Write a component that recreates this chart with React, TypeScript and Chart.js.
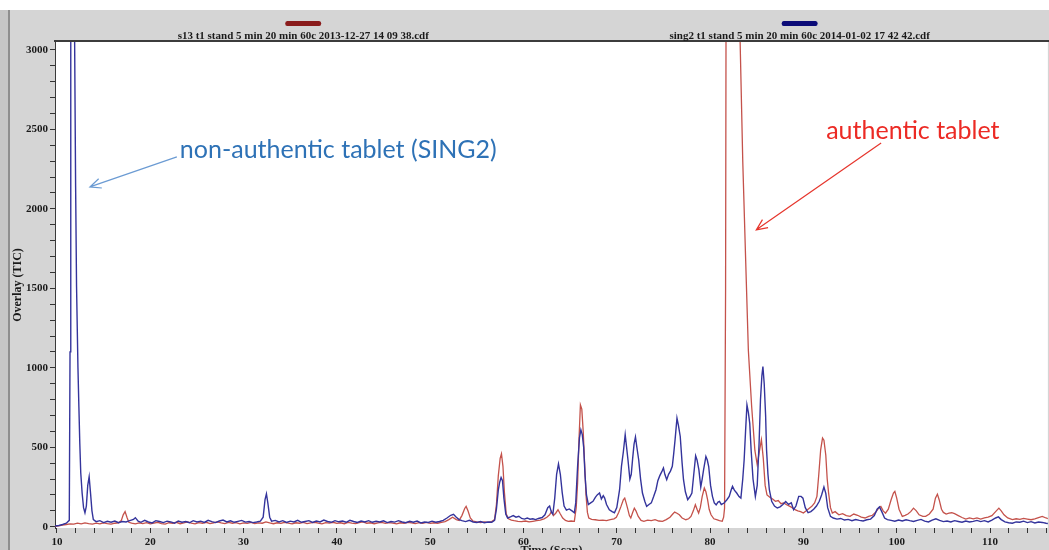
import React, { useEffect, useRef } from 'react';
import { Chart, registerables } from 'chart.js';

Chart.register(...registerables);

// ---- data: [time (scan), intensity] ----
const redSeries: [number, number][] = [
  [9.8, 2], [10.2, 6], [10.6, 10], [11.0, 14], [11.4, 18], [11.8, 16], [12.2, 22], [12.6, 18], [13.0, 24], [13.4, 20],
  [13.8, 17], [14.2, 22], [14.6, 18], [15.0, 25], [15.4, 20], [15.8, 16], [16.2, 22], [16.6, 25], [16.9, 40], [17.1, 75],
  [17.3, 95], [17.5, 60], [17.7, 28], [18.0, 22], [18.4, 18], [18.8, 24], [19.2, 20], [19.6, 26], [20.0, 18], [20.4, 23],
  [20.8, 28], [21.2, 20], [21.6, 17], [22.0, 25], [22.4, 22], [22.8, 28], [23.2, 19], [23.6, 24], [24.0, 30], [24.4, 22],
  [24.8, 18], [25.2, 26], [25.6, 22], [26.0, 28], [26.4, 20], [26.8, 25], [27.2, 30], [27.6, 24], [28.0, 20], [28.4, 27],
  [28.8, 22], [29.2, 26], [29.6, 18], [30.0, 24], [30.4, 21], [30.8, 27], [31.2, 20], [31.6, 24], [32.0, 22], [32.4, 30],
  [32.8, 24], [33.2, 19], [33.6, 25], [34.0, 21], [34.4, 28], [34.8, 23], [35.2, 18], [35.6, 25], [36.0, 22], [36.4, 27],
  [36.8, 20], [37.2, 24], [37.6, 28], [38.0, 22], [38.4, 18], [38.8, 26], [39.2, 23], [39.6, 28], [40.0, 21], [40.4, 25],
  [40.8, 19], [41.2, 27], [41.6, 23], [42.0, 20], [42.4, 26], [42.8, 30], [43.2, 22], [43.6, 25], [44.0, 19], [44.4, 24],
  [44.8, 27], [45.2, 21], [45.6, 26], [46.0, 23], [46.4, 18], [46.8, 25], [47.2, 22], [47.6, 28], [48.0, 24], [48.4, 20],
  [48.8, 26], [49.2, 22], [49.6, 27], [50.0, 21], [50.4, 25], [50.8, 22], [51.2, 28], [51.6, 32], [52.0, 45], [52.4, 60],
  [52.8, 45], [53.1, 40], [53.4, 70], [53.7, 115], [53.85, 128], [54.05, 100], [54.3, 55], [54.6, 35], [55.0, 30], [55.4, 26],
  [55.8, 30], [56.2, 27], [56.6, 32], [56.9, 45], [57.1, 140], [57.3, 320], [57.5, 430], [57.64, 459], [57.8, 380], [57.95, 220],
  [58.15, 80], [58.4, 50], [58.7, 42], [59.0, 38], [59.4, 34], [59.8, 32], [60.2, 36], [60.6, 30], [61.0, 34], [61.4, 38],
  [61.8, 42], [62.2, 50], [62.5, 60], [62.8, 75], [63.0, 96], [63.2, 70], [63.45, 85], [63.7, 107], [63.95, 80], [64.2, 55],
  [64.5, 40], [64.8, 34], [65.1, 36], [65.45, 34], [65.65, 120], [65.8, 275], [65.95, 550], [66.1, 767], [66.25, 740], [66.4, 600],
  [66.55, 400], [66.7, 200], [66.85, 90], [67.0, 55], [67.3, 46], [67.7, 44], [68.1, 40], [68.5, 42], [68.9, 38], [69.3, 44],
  [69.7, 50], [69.95, 60], [70.2, 90], [70.45, 128], [70.7, 170], [70.85, 180], [71.0, 150], [71.15, 117], [71.35, 70], [71.5, 55],
  [71.7, 90], [71.88, 117], [72.05, 100], [72.3, 65], [72.6, 40], [72.9, 34], [73.3, 42], [73.7, 38], [74.1, 44], [74.5, 36],
  [74.9, 34], [75.3, 45], [75.7, 60], [76.0, 80], [76.2, 92], [76.45, 85], [76.7, 75], [77.0, 55], [77.4, 44], [77.7, 50],
  [77.95, 65], [78.2, 100], [78.42, 138], [78.6, 110], [78.77, 86], [78.95, 120], [79.15, 190], [79.38, 243], [79.55, 220], [79.73, 170],
  [79.9, 110], [80.1, 75], [80.4, 50], [80.7, 44], [81.0, 38], [81.3, 34], [81.45, 60], [81.55, 117], [81.66, 1500], [81.72, 3600],
  [81.9, 5200], [82.5, 5500], [83.0, 4300], [83.2, 3100], [83.5, 2300], [83.8, 1700], [84.1, 1110], [84.45, 760], [84.8, 480], [85.05, 390],
  [85.3, 480], [85.5, 547], [85.7, 430], [85.9, 260], [86.1, 200], [86.4, 185], [86.7, 175], [87.0, 160], [87.3, 165], [87.6, 145],
  [87.9, 150], [88.2, 138], [88.5, 130], [88.8, 120], [89.1, 107], [89.4, 100], [89.7, 95], [90.0, 86], [90.3, 100], [90.6, 115],
  [90.9, 128], [91.2, 150], [91.45, 191], [91.65, 330], [91.85, 484], [92.05, 558], [92.2, 545], [92.4, 450], [92.55, 300], [92.7, 212],
  [92.9, 120], [93.1, 86], [93.4, 95], [93.8, 75], [94.2, 82], [94.6, 70], [95.0, 65], [95.4, 80], [95.8, 72], [96.2, 60],
  [96.6, 55], [97.0, 65], [97.4, 72], [97.8, 95], [98.1, 120], [98.3, 128], [98.55, 100], [98.8, 85], [99.1, 110], [99.4, 170],
  [99.65, 212], [99.8, 222], [100.0, 180], [100.25, 110], [100.6, 65], [100.9, 72], [101.2, 80], [101.5, 95], [101.8, 117], [102.1, 100],
  [102.4, 75], [102.8, 65], [103.1, 65], [103.5, 80], [103.9, 110], [104.15, 180], [104.36, 205], [104.55, 170], [104.8, 110], [105.0, 90],
  [105.3, 80], [105.6, 85], [105.9, 88], [106.2, 82], [106.6, 70], [107.0, 58], [107.4, 48], [107.8, 55], [108.2, 50], [108.6, 56],
  [109.0, 48], [109.4, 55], [109.8, 60], [110.2, 70], [110.6, 95], [110.95, 117], [111.2, 100], [111.5, 75], [111.9, 55], [112.4, 45],
  [112.8, 50], [113.2, 46], [113.6, 52], [114.0, 48], [114.4, 44], [114.8, 50], [115.2, 58], [115.6, 65], [116.0, 55], [116.3, 50],
];

const blueSeries: [number, number][] = [
  [9.8, 5], [10.2, 8], [10.6, 14], [11.0, 22], [11.32, 40], [11.4, 1100], [11.48, 3600], [11.6, 4400], [11.8, 3900], [11.9, 3000],
  [12.0, 2140], [12.1, 1510], [12.25, 1000], [12.35, 755], [12.45, 520], [12.55, 340], [12.7, 210], [12.85, 120], [13.0, 88], [13.15, 130],
  [13.3, 260], [13.45, 315], [13.6, 210], [13.75, 100], [13.9, 45], [14.2, 32], [14.6, 38], [15.0, 26], [15.4, 34], [15.8, 28],
  [16.2, 36], [16.6, 25], [17.0, 33], [17.4, 30], [17.8, 38], [18.2, 46], [18.4, 57], [18.7, 35], [19.0, 28], [19.4, 40],
  [19.8, 30], [20.2, 24], [20.6, 38], [21.0, 33], [21.4, 26], [21.8, 35], [22.2, 30], [22.6, 22], [23.0, 36], [23.4, 28],
  [23.8, 33], [24.2, 25], [24.6, 38], [25.0, 30], [25.4, 35], [25.8, 27], [26.2, 40], [26.6, 32], [27.0, 26], [27.4, 36],
  [27.8, 42], [28.2, 30], [28.6, 37], [29.0, 28], [29.4, 34], [29.8, 40], [30.2, 29], [30.6, 33], [31.0, 26], [31.4, 30],
  [31.8, 35], [32.1, 60], [32.3, 170], [32.45, 207], [32.6, 150], [32.8, 60], [33.0, 35], [33.4, 40], [33.8, 30], [34.2, 38],
  [34.6, 27], [35.0, 35], [35.4, 30], [35.8, 40], [36.2, 28], [36.6, 33], [37.0, 38], [37.4, 27], [37.8, 36], [38.2, 30],
  [38.6, 42], [39.0, 33], [39.4, 28], [39.8, 38], [40.2, 31], [40.6, 36], [41.0, 28], [41.4, 40], [41.8, 33], [42.2, 27],
  [42.6, 36], [43.0, 30], [43.4, 38], [43.8, 28], [44.2, 34], [44.6, 30], [45.0, 37], [45.4, 26], [45.8, 33], [46.2, 29],
  [46.6, 38], [47.0, 30], [47.4, 25], [47.8, 34], [48.2, 28], [48.6, 36], [49.0, 24], [49.4, 30], [49.8, 27], [50.2, 35],
  [50.6, 28], [51.0, 33], [51.4, 40], [51.8, 55], [52.2, 72], [52.5, 78], [52.8, 60], [53.1, 45], [53.4, 38], [53.8, 32],
  [54.2, 40], [54.6, 30], [55.0, 27], [55.4, 33], [55.8, 25], [56.2, 30], [56.6, 28], [56.9, 40], [57.1, 110], [57.3, 230],
  [57.45, 280], [57.6, 310], [57.75, 290], [57.9, 180], [58.1, 80], [58.3, 55], [58.6, 62], [58.9, 70], [59.2, 60], [59.5, 66],
  [59.8, 52], [60.1, 48], [60.4, 55], [60.7, 47], [61.0, 50], [61.3, 45], [61.6, 52], [62.0, 58], [62.3, 75], [62.6, 120],
  [62.8, 130], [63.0, 90], [63.15, 80], [63.35, 180], [63.55, 330], [63.75, 395], [63.95, 330], [64.15, 215], [64.35, 130], [64.6, 105],
  [64.9, 112], [65.2, 100], [65.45, 88], [65.6, 150], [65.8, 380], [66.0, 560], [66.15, 610], [66.3, 580], [66.45, 500], [66.6, 320],
  [66.75, 200], [66.95, 140], [67.2, 150], [67.45, 160], [67.7, 185], [67.9, 200], [68.15, 212], [68.35, 175], [68.55, 195], [68.7, 180],
  [68.9, 140], [69.2, 107], [69.5, 95], [69.75, 88], [70.0, 120], [70.3, 233], [70.5, 380], [70.7, 470], [70.9, 579], [71.05, 500],
  [71.2, 420], [71.4, 300], [71.55, 330], [71.7, 430], [71.85, 520], [72.0, 565], [72.15, 500], [72.35, 420], [72.55, 300], [72.75, 212],
  [73.0, 160], [73.2, 128], [73.45, 140], [73.7, 150], [73.95, 190], [74.2, 233], [74.4, 290], [74.6, 320], [74.85, 350], [75.0, 370],
  [75.15, 330], [75.35, 296], [75.55, 330], [75.75, 350], [75.95, 380], [76.1, 460], [76.25, 550], [76.45, 683], [76.6, 640], [76.8, 568],
  [77.0, 400], [77.15, 296], [77.35, 220], [77.6, 170], [77.85, 190], [78.05, 212], [78.25, 330], [78.45, 446], [78.6, 420], [78.8, 358],
  [79.0, 250], [79.15, 300], [79.3, 358], [79.55, 442], [79.7, 420], [79.85, 379], [80.05, 260], [80.25, 191], [80.45, 150], [80.65, 138],
  [80.85, 155], [81.0, 159], [81.2, 140], [81.5, 149], [81.8, 170], [82.05, 191], [82.25, 230], [82.4, 254], [82.6, 230], [82.85, 212],
  [83.1, 190], [83.3, 180], [83.5, 300], [83.65, 421], [83.8, 600], [83.95, 767], [84.1, 720], [84.25, 650], [84.4, 480], [84.6, 300],
  [84.85, 190], [85.05, 260], [85.25, 526], [85.4, 800], [85.55, 950], [85.66, 1008], [85.8, 900], [85.95, 700], [86.05, 484], [86.2, 330],
  [86.35, 233], [86.6, 160], [86.9, 130], [87.2, 118], [87.5, 125], [87.8, 140], [88.1, 159], [88.4, 140], [88.7, 150], [88.95, 107],
  [89.2, 130], [89.5, 191], [89.75, 191], [89.95, 180], [90.2, 120], [90.5, 88], [90.8, 95], [91.1, 110], [91.4, 130], [91.7, 160],
  [91.95, 200], [92.2, 250], [92.4, 210], [92.6, 120], [92.9, 65], [93.2, 55], [93.6, 48], [94.0, 52], [94.4, 42], [94.8, 46],
  [95.2, 38], [95.6, 45], [96.0, 40], [96.4, 36], [96.8, 44], [97.2, 48], [97.6, 70], [97.9, 110], [98.15, 125], [98.4, 95],
  [98.7, 55], [99.0, 45], [99.4, 40], [99.8, 35], [100.2, 42], [100.6, 36], [101.0, 44], [101.4, 38], [101.8, 33], [102.2, 40],
  [102.6, 46], [103.0, 35], [103.4, 30], [103.8, 42], [104.2, 50], [104.6, 40], [105.0, 32], [105.4, 36], [105.8, 30], [106.2, 38],
  [106.6, 33], [107.0, 28], [107.4, 36], [107.8, 30], [108.2, 34], [108.6, 40], [109.0, 32], [109.4, 38], [109.8, 30], [110.2, 42],
  [110.6, 55], [110.9, 62], [111.2, 45], [111.6, 30], [112.0, 25], [112.4, 22], [112.8, 30], [113.2, 28], [113.6, 35], [114.0, 26],
  [114.4, 32], [114.8, 24], [115.2, 30], [115.6, 27], [116.0, 22], [116.3, 20],
];

const seriesNames = [
  's13 t1 stand 5 min 20 min 60c 2013-12-27 14 09 38.cdf',
  'sing2 t1 stand 5 min 20 min 60c 2014-01-02 17 42 42.cdf',
];
const seriesColors = ['#c4524b', '#34349c'];
const legendSwatchColors = ['#8a1c1c', '#0c0c78'];

const xTickLabels = [10, 20, 30, 40, 50, 60, 70, 80, 90, 100, 110];
const yTickLabels = [0, 500, 1000, 1500, 2000, 2500, 3000];
const xMinorStep = 2;
const yMinorStep = 100;
const xRange = [9.79, 116.2];
const yRange = [-8, 3050];

const annotations = [
  {
    text: 'non-authentic tablet (SING2)', color: '#2e72b6', arrowColor: '#6b9bd3',
    labelX: 23.17, labelY: 2371, fromX: 22.85, fromY: 2327, toX: 13.53, toY: 2138,
  },
  {
    text: 'authentic tablet', color: '#ec2a24', arrowColor: '#e6352c',
    labelX: 92.44, labelY: 2490, fromX: 98.33, fromY: 2415, toX: 84.95, toY: 1868,
  },
];

const SERIF = "'Liberation Serif', 'Times New Roman', serif";

const framePlugin = {
  id: 'frame',
  beforeDraw(chart: any) {
    const { ctx, width, height, chartArea: a } = chart;
    ctx.save();
    ctx.fillStyle = '#d5d5d5';
    ctx.fillRect(0, 0, width, height);
    ctx.fillStyle = '#ffffff';
    ctx.fillRect(0, 0, width, 10);
    ctx.fillStyle = '#c6c6c6';
    ctx.fillRect(0, 10, 8, height - 10);
    ctx.fillStyle = '#8e8e8e';
    ctx.fillRect(8, 10, 2, height - 10);
    ctx.fillStyle = '#ffffff';
    ctx.fillRect(a.left, a.top, a.right - a.left, a.bottom - a.top);
    ctx.restore();
  },
  afterDraw(chart: any) {
    const { ctx, width, chartArea: a } = chart;
    const xs = chart.scales.x;
    const ys = chart.scales.y;
    ctx.save();
    // top frame line
    ctx.fillStyle = '#3c3c3c';
    ctx.fillRect(a.left - 1, a.top - 2, width - a.left + 1, 2);
    // header: swatch + file name, centred on each half of the plot
    const w = a.right - a.left;
    seriesNames.forEach((name, i) => {
      const cx = a.left + w * (i === 0 ? 0.25 : 0.75);
      ctx.fillStyle = legendSwatchColors[i];
      ctx.beginPath();
      const sx = cx - 18, sy = 21, sw = 36, sh = 5;
      ctx.moveTo(sx + 2, sy);
      ctx.lineTo(sx + sw - 2, sy);
      ctx.quadraticCurveTo(sx + sw, sy, sx + sw, sy + sh / 2);
      ctx.quadraticCurveTo(sx + sw, sy + sh, sx + sw - 2, sy + sh);
      ctx.lineTo(sx + 2, sy + sh);
      ctx.quadraticCurveTo(sx, sy + sh, sx, sy + sh / 2);
      ctx.quadraticCurveTo(sx, sy, sx + 2, sy);
      ctx.fill();
      ctx.fillStyle = '#1a1a1a';
      ctx.font = `bold 11px ${SERIF}`;
      ctx.textAlign = 'center';
      ctx.textBaseline = 'alphabetic';
      ctx.fillText(name, cx, 39);
    });
    // annotations
    annotations.forEach((an) => {
      ctx.font = "25px Lato, 'Open Sans', sans-serif";
      ctx.fillStyle = an.color;
      ctx.textAlign = 'left';
      ctx.textBaseline = 'middle';
      ctx.fillText(an.text, xs.getPixelForValue(an.labelX), ys.getPixelForValue(an.labelY));
      const x1 = xs.getPixelForValue(an.fromX), y1 = ys.getPixelForValue(an.fromY);
      const x2 = xs.getPixelForValue(an.toX), y2 = ys.getPixelForValue(an.toY);
      ctx.strokeStyle = an.arrowColor;
      ctx.lineWidth = 1.2;
      ctx.beginPath();
      ctx.moveTo(x1, y1);
      ctx.lineTo(x2, y2);
      const ang = Math.atan2(y1 - y2, x1 - x2);
      const L = 12, spread = 0.42;
      ctx.moveTo(x2 + L * Math.cos(ang + spread), y2 + L * Math.sin(ang + spread));
      ctx.lineTo(x2, y2);
      ctx.lineTo(x2 + L * Math.cos(ang - spread), y2 + L * Math.sin(ang - spread));
      ctx.stroke();
    });
    ctx.restore();
  },
};

function makeTicks(min: number, max: number, step: number) {
  const out: { value: number }[] = [];
  for (let v = Math.ceil(min / step) * step; v <= max + 1e-9; v += step) out.push({ value: v });
  return out;
}

export default function App() {
  const canvasRef = useRef<HTMLCanvasElement | null>(null);

  useEffect(() => {
    if (!canvasRef.current) return;
    const chart = new Chart(canvasRef.current, {
      type: 'line',
      data: {
        datasets: [
          {
            label: seriesNames[1],
            data: blueSeries.map(([x, y]) => ({ x, y })),
            borderColor: seriesColors[1],
            borderWidth: 1.4,
            pointRadius: 0,
            tension: 0,
            fill: false,
            order: 0,
          },
          {
            label: seriesNames[0],
            data: redSeries.map(([x, y]) => ({ x, y })),
            borderColor: seriesColors[0],
            borderWidth: 1.3,
            pointRadius: 0,
            tension: 0,
            fill: false,
            order: 1,
          },
        ],
      },
      options: {
        animation: false,
        responsive: false,
        events: [],
        layout: { padding: { left: 0, top: 42, right: 0, bottom: 0 } },
        plugins: { legend: { display: false }, tooltip: { enabled: false }, title: { display: false } },
        scales: {
          x: {
            type: 'linear',
            min: xRange[0],
            max: xRange[1],
            afterBuildTicks: (s: any) => { s.ticks = makeTicks(10, xRange[1], xMinorStep); },
            afterFit: (s: any) => { s.height = 22; },
            border: { display: false },
            grid: { drawOnChartArea: false, drawTicks: true, tickLength: 5, color: '#333', tickWidth: 1 },
            ticks: {
              autoSkip: false,
              maxRotation: 0,
              padding: 3,
              color: '#1a1a1a',
              font: { family: SERIF, size: 11, weight: 'bold' },
              callback: (v: any) => (xTickLabels.includes(Number(v)) ? String(v) : ''),
            },
            title: {
              display: true,
              text: 'Time (Scan)',
              color: '#1a1a1a',
              font: { family: SERIF, size: 12, weight: 'bold' },
              padding: { top: 0, bottom: -8 },
            },
          },
          y: {
            type: 'linear',
            min: yRange[0],
            max: yRange[1],
            afterBuildTicks: (s: any) => { s.ticks = makeTicks(0, 3000, yMinorStep); },
            afterFit: (s: any) => { s.width = 55; },
            border: { display: true, color: '#3a3a3a', width: 1 },
            grid: { drawOnChartArea: false, drawTicks: true, tickLength: 5, color: '#333', tickWidth: 1 },
            ticks: {
              autoSkip: false,
              padding: 2,
              color: '#1a1a1a',
              font: { family: SERIF, size: 11, weight: 'bold' },
              callback: (v: any) => (yTickLabels.includes(Number(v)) ? String(v) : ''),
            },
            title: {
              display: true,
              text: 'Overlay (TIC)',
              color: '#1a1a1a',
              font: { family: SERIF, size: 12, weight: 'bold' },
              padding: { top: 11, bottom: 0 },
            },
          },
        },
      },
      plugins: [framePlugin],
    } as any);
    return () => chart.destroy();
  }, []);

  return (
    <div style={{ position: 'fixed', left: 0, top: 0, width: 1049, height: 550, overflow: 'hidden' }}>
      <canvas ref={canvasRef} width={1049} height={550} style={{ display: 'block' }} />
    </div>
  );
}
